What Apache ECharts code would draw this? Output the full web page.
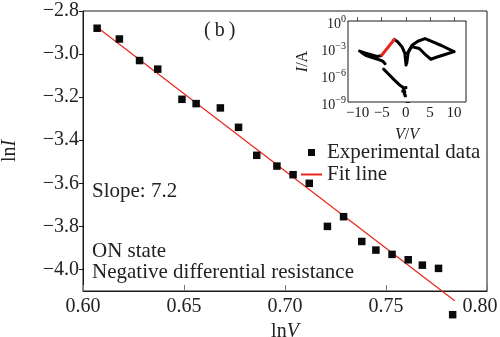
<!DOCTYPE html>
<html>
<head>
<meta charset="utf-8">
<script src="https://cdn.jsdelivr.net/npm/echarts@6/dist/echarts.min.js"></script>
<style>
  html, body { margin: 0; padding: 0; background: #fff; }
  #chart { width: 500px; height: 337px; }
</style>
</head>
<body>
<div id="chart"></div>
<script>
// main panel: ln I vs ln V
const lnV = [0.607, 0.618, 0.628, 0.637, 0.649, 0.656, 0.668, 0.677, 0.686, 0.696, 0.704,
             0.712, 0.721, 0.729, 0.738, 0.745, 0.753, 0.761, 0.768, 0.776, 0.783];
const lnI = [-2.88, -2.93, -3.03, -3.07, -3.21, -3.23, -3.25, -3.34, -3.47, -3.52, -3.56,
             -3.60, -3.80, -3.755, -3.87, -3.91, -3.93, -3.955, -3.98, -3.995, -4.21];
const fitLine = [[0.607, -2.875], [0.784, -4.145]];

// inset: I-V curve, [V, log10(I/A)]
const insetLeftUpper = [[-9.6, -3.35], [-8.5, -3.55], [-7.2, -3.75], [-6.0, -3.95], [-5.1, -3.85]];
const insetLeftLower = [[-9.2, -3.5], [-8.2, -3.85], [-7.0, -4.05], [-5.8, -4.25], [-4.8, -4.45], [-4.3, -4.75]];
const insetNdr = [[-5.0, -3.8], [-2.4, -2.05]];
const insetCenter = [[-2.4, -2.05], [-1.7, -2.3], [-0.8, -2.85], [-0.2, -3.6], [0.05, -4.9]];
const insetRightUpper = [[0.2, -4.7], [0.5, -3.5], [1.3, -2.7], [2.5, -2.25], [4.0, -1.95], [5.5, -2.3], [7.5, -2.75], [10, -3.4]];
const insetRightLower = [[10, -3.4], [8.0, -3.75], [6.5, -4.0], [5.2, -4.25], [4.2, -3.8], [2.8, -3.05], [1.2, -2.85], [0.3, -3.6]];
const insetOff = [[-4.6, -5.35], [-3.5, -5.95], [-2.3, -6.6], [-1.3, -7.1], [-0.6, -7.35], [-0.2, -7.9]];
const insetDots = [[-0.6, -7.8], [-0.3, -8.1], [0.0, -7.4], [-0.1, -8.3]];

const serif = '"Liberation Serif", "DejaVu Serif", serif';
const ink = '#222';
const red = '#e8261e';
const minus = (s) => s.replace('-', '\u2212');

const chart = echarts.init(document.getElementById('chart'));

const insetLine = (data, color) => ({
  type: 'line',
  xAxisIndex: 1,
  yAxisIndex: 1,
  data: data,
  symbol: 'none',
  lineStyle: { color: color || '#000', width: 3, join: 'round', cap: 'round' },
  silent: true,
  z: 5,
});

const option = {
  backgroundColor: '#fff',
  animation: false,
  grid: [
    { left: 83, top: 11, right: 13, bottom: 46, outerBoundsMode: 'none',
      show: true, borderColor: '#1a1a1a', borderWidth: 1 },
    { left: 348, top: 21, right: 34, bottom: 235, outerBoundsMode: 'none',
      show: true, borderColor: '#1a1a1a', borderWidth: 1, backgroundColor: '#fff', z: 3 },
  ],
  legend: {
    orient: 'vertical',
    left: 300,
    top: 142,
    padding: 0,
    itemWidth: 21,
    itemHeight: 7,
    itemGap: 1,
    textStyle: { fontFamily: serif, fontSize: 21, color: ink },
    data: [
      { name: 'Experimental data', icon: 'path://M0,0L1,0L1,1L0,1Z' },
      { name: 'Fit line', itemStyle: { opacity: 0 } },
    ],
  },
  xAxis: [
    {
      type: 'value', gridIndex: 0, min: 0.6, max: 0.8, interval: 0.05,
      name: 'ln{i|V}', nameLocation: 'middle', nameGap: 31,
      nameTextStyle: {
        fontFamily: serif, fontSize: 20, color: ink,
        rich: { i: { fontFamily: serif, fontSize: 20, fontStyle: 'italic', color: ink } },
      },
      axisLine: { lineStyle: { color: '#1a1a1a' } },
      axisTick: { inside: true, length: 6, lineStyle: { color: '#777' } },
      splitLine: { show: false },
      axisLabel: {
        fontFamily: serif, fontSize: 20, color: ink, margin: 6,
        formatter: (v) => Math.abs(v - 0.8) < 1e-6 ? '{r|0.80}' : v.toFixed(2),
        rich: { r: { fontFamily: serif, fontSize: 20, color: ink, padding: [0, 14, 0, 0] } },
      },
    },
    {
      type: 'value', gridIndex: 1, min: -12, max: 12.5, splitNumber: 5,
      name: '{i|V}/{i|V}', nameLocation: 'middle', nameGap: 25,
      nameTextStyle: {
        fontFamily: serif, fontSize: 16, color: ink,
        rich: { i: { fontFamily: serif, fontSize: 16, fontStyle: 'italic', color: ink } },
      },
      axisLine: { lineStyle: { color: '#1a1a1a' } },
      axisTick: { inside: true, length: 4, lineStyle: { color: '#555' } },
      splitLine: { show: false },
      axisLabel: {
        fontFamily: serif, fontSize: 15, color: ink, margin: 4,
        showMinLabel: false, showMaxLabel: false,
        formatter: (v) => minus(String(v)),
      },
    },
  ],
  yAxis: [
    {
      type: 'value', gridIndex: 0, min: -4.1, max: -2.8, splitNumber: 6,
      name: 'ln{i|I}', nameLocation: 'middle', nameGap: 63,
      nameTextStyle: {
        fontFamily: serif, fontSize: 20, color: ink,
        rich: { i: { fontFamily: serif, fontSize: 20, fontStyle: 'italic', color: ink } },
      },
      axisLine: { lineStyle: { color: '#1a1a1a' } },
      axisTick: { inside: false, length: 4, lineStyle: { color: '#1a1a1a' } },
      splitLine: { show: false },
      axisLabel: {
        fontFamily: serif, fontSize: 20, color: ink, margin: 4,
        showMinLabel: false,
        formatter: (v) => minus(v.toFixed(1)),
      },
    },
    {
      type: 'value', gridIndex: 1, min: -9, max: 0, interval: 3,
      name: '{i|I}/A', nameLocation: 'middle', nameGap: 37,
      nameTextStyle: {
        fontFamily: serif, fontSize: 16, color: ink,
        rich: { i: { fontFamily: serif, fontSize: 16, fontStyle: 'italic', color: ink } },
      },
      axisLine: { lineStyle: { color: '#1a1a1a' } },
      axisTick: { inside: true, length: 4, lineStyle: { color: '#1a1a1a' } },
      splitLine: { show: false },
      axisLabel: {
        fontFamily: serif, fontSize: 14, color: ink, margin: 2,
        formatter: (v) => '{b|10}{s|' + minus(String(v)) + '}',
        rich: {
          b: { fontFamily: serif, fontSize: 14, color: ink, padding: [6, 0, 0, 0] },
          s: { fontFamily: serif, fontSize: 10, color: ink, padding: [0, 0, 4, 0] },
        },
      },
    },
  ],
  graphic: [
    { type: 'text', left: 204, top: 21, style: { text: '(\u2009b\u2009)', font: '20px ' + serif, fill: ink } },
    { type: 'text', left: 92, top: 181, style: { text: 'Slope: 7.2', font: '21px ' + serif, fill: ink } },
    { type: 'text', left: 92, top: 241, style: { text: 'ON state', font: '21px ' + serif, fill: ink } },
    { type: 'text', left: 92, top: 262, style: { text: 'Negative differential resistance', font: '21px ' + serif, fill: ink } },
  ],
  series: [
    {
      name: 'Experimental data',
      type: 'scatter',
      xAxisIndex: 0, yAxisIndex: 0,
      data: lnV.map((x, i) => [x, lnI[i]]),
      symbol: 'rect',
      symbolSize: 7.5,
      itemStyle: { color: '#0a0a0a', opacity: 1 },
      clip: false,
      z: 4,
    },
    {
      name: 'Fit line',
      type: 'line',
      xAxisIndex: 0, yAxisIndex: 0,
      data: fitLine,
      symbol: 'none',
      lineStyle: { color: red, width: 1.2 },
      itemStyle: { color: red },
      clip: false,
      z: 3,
    },
    insetLine(insetLeftUpper),
    insetLine(insetLeftLower),
    insetLine(insetCenter),
    insetLine(insetRightUpper),
    insetLine(insetRightLower),
    insetLine(insetOff),
    insetLine(insetNdr, red),
    {
      type: 'scatter', xAxisIndex: 1, yAxisIndex: 1,
      data: insetDots, symbol: 'rect', symbolSize: 3,
      itemStyle: { color: '#000', opacity: 1 }, silent: true, z: 5,
    },
  ],
};

chart.setOption(option);
</script>
</body>
</html>
